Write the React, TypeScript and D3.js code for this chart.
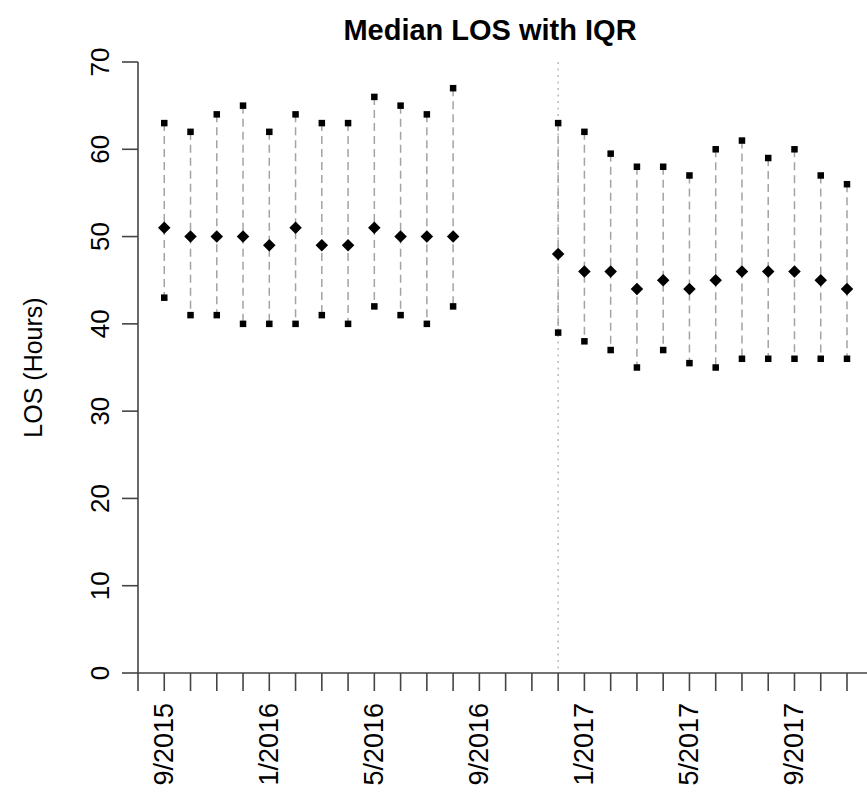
import React from "react";
import * as d3 from "d3";

// Monthly length of stay (hours): median with interquartile range
const monthLabels = [
  "8/2015", "9/2015", "10/2015", "11/2015", "12/2015",
  "1/2016", "2/2016", "3/2016", "4/2016", "5/2016", "6/2016", "7/2016", "8/2016",
  "9/2016", "10/2016", "11/2016", "12/2016",
  "1/2017", "2/2017", "3/2017", "4/2017", "5/2017", "6/2017", "7/2017", "8/2017",
  "9/2017", "10/2017", "11/2017", "12/2017",
];

// Period before the intervention: 9/2015 - 8/2016
const preMonths = ["9/2015", "10/2015", "11/2015", "12/2015", "1/2016", "2/2016", "3/2016", "4/2016", "5/2016", "6/2016", "7/2016", "8/2016"];
const preQ3 = [63, 62, 64, 65, 62, 64, 63, 63, 66, 65, 64, 67];
const preMedian = [51, 50, 50, 50, 49, 51, 49, 49, 51, 50, 50, 50];
const preQ1 = [43, 41, 41, 40, 40, 40, 41, 40, 42, 41, 40, 42];

// Period after the intervention: 12/2016 - 11/2017
const postMonths = ["12/2016", "1/2017", "2/2017", "3/2017", "4/2017", "5/2017", "6/2017", "7/2017", "8/2017", "9/2017", "10/2017", "11/2017"];
const postQ3 = [63, 62, 59.5, 58, 58, 57, 60, 61, 59, 60, 57, 56];
const postMedian = [48, 46, 46, 44, 45, 44, 45, 46, 46, 46, 45, 44];
const postQ1 = [39, 38, 37, 35, 37, 35.5, 35, 36, 36, 36, 36, 36];

const xTickLabels = ["9/2015", "1/2016", "5/2016", "9/2016", "1/2017", "5/2017", "9/2017"];
const yTicks = [0, 10, 20, 30, 40, 50, 60, 70];
const interventionMonth = "12/2016";

const W = 867;
const H = 796;
const FONT = "'Liberation Sans', Arial, Helvetica, sans-serif";

export default function App() {
  const idx = (m: string) => monthLabels.indexOf(m);
  const x = d3.scaleLinear().domain([0, 27]).range([138, 847]);
  const y = d3.scaleLinear().domain([0, 70]).range([673, 62]);

  const groups = [
    { months: preMonths, q3: preQ3, med: preMedian, q1: preQ1 },
    { months: postMonths, q3: postQ3, med: postMedian, q1: postQ1 },
  ];

  const diamond = d3.symbol().type(d3.symbolDiamond2).size(100)();
  const square = 6.5;

  return (
    <svg
      width={W}
      height={H}
      style={{ position: "absolute", left: 0, top: 0, background: "#fff" }}
    >
      <rect width={W} height={H} fill="#fff" />
      <text
        x={490}
        y={40}
        textAnchor="middle"
        fontFamily={FONT}
        fontWeight="bold"
        fontSize={29}
        fill="#000"
      >
        Median LOS with IQR
      </text>

      {/* y axis */}
      <line x1={x(0)} x2={x(0)} y1={y(0)} y2={y(70)} stroke="#444" strokeWidth={1.6} />
      {yTicks.map((t) => (
        <g key={t}>
          <line x1={x(0) - 16} x2={x(0)} y1={y(t)} y2={y(t)} stroke="#444" strokeWidth={1.6} />
          <text
            transform={`translate(109,${y(t)}) rotate(-90)`}
            textAnchor="middle"
            fontFamily={FONT}
            fontSize={26}
            fill="#000"
          >
            {t}
          </text>
        </g>
      ))}
      <text
        transform={`translate(42,${(y(0) + y(70)) / 2}) rotate(-90)`}
        textAnchor="middle"
        fontFamily={FONT}
        fontSize={25}
        fill="#000"
      >
        LOS (Hours)
      </text>

      {/* x axis */}
      <line x1={x(0)} x2={x(monthLabels.length - 1)} y1={y(0)} y2={y(0)} stroke="#444" strokeWidth={1.6} />
      {monthLabels.map((m, i) => (
        <line key={m} x1={x(i)} x2={x(i)} y1={y(0)} y2={y(0) + 18} stroke="#444" strokeWidth={1.6} />
      ))}
      {xTickLabels.map((m) => (
        <text
          key={m}
          transform={`translate(${x(idx(m)) + 9},703) rotate(-90)`}
          textAnchor="end"
          fontFamily={FONT}
          fontSize={27}
          fill="#000"
        >
          {m}
        </text>
      ))}

      {/* intervention marker */}
      <line
        x1={x(idx(interventionMonth))}
        x2={x(idx(interventionMonth))}
        y1={y(70)}
        y2={y(0)}
        stroke="#b8b8b8"
        strokeWidth={1.5}
        strokeDasharray="2,4.5"
      />

      {groups.map((g, gi) => (
        <g key={gi}>
          {g.months.map((m, i) => {
            const cx = x(idx(m));
            return (
              <g key={m}>
                <line
                  x1={cx}
                  x2={cx}
                  y1={y(g.q3[i])}
                  y2={y(g.q1[i])}
                  stroke="#a3a3a3"
                  strokeWidth={1.5}
                  strokeDasharray="8,5"
                />
                <rect x={cx - square / 2} y={y(g.q3[i]) - square / 2} width={square} height={square} fill="#000" />
                <rect x={cx - square / 2} y={y(g.q1[i]) - square / 2} width={square} height={square} fill="#000" />
                <path d={diamond as string} transform={`translate(${cx},${y(g.med[i])})`} fill="#000" />
              </g>
            );
          })}
        </g>
      ))}
    </svg>
  );
}
